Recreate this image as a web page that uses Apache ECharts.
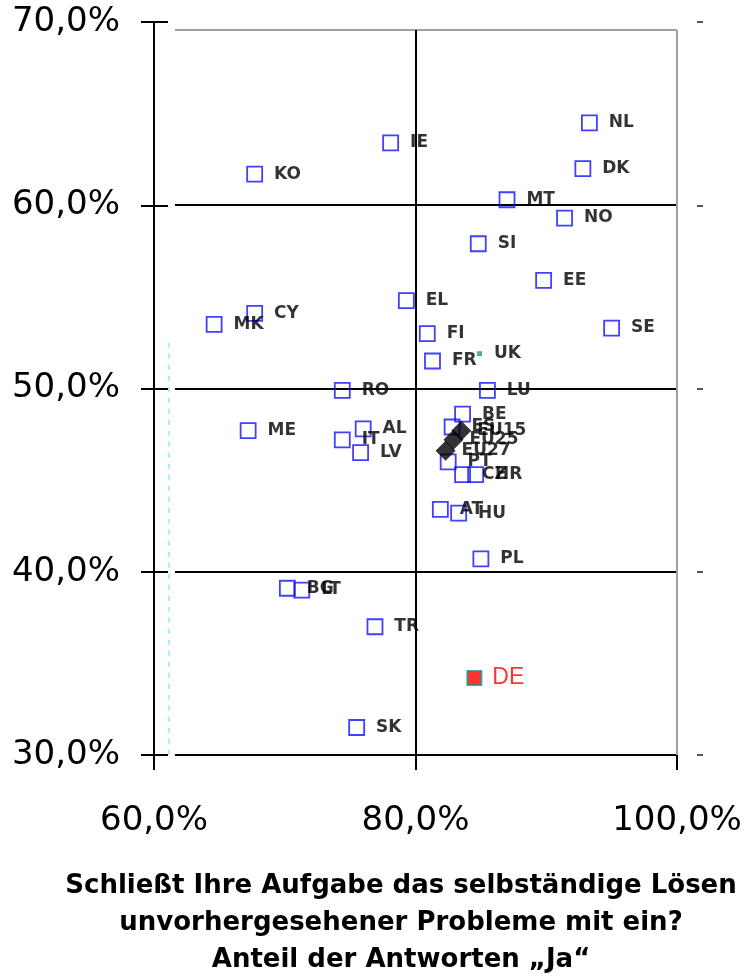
<!DOCTYPE html>
<html>
<head>
<meta charset="utf-8">
<script src="https://cdn.jsdelivr.net/npm/echarts@6/dist/echarts.min.js"></script>
<style>
  html, body { margin: 0; padding: 0; background: #fff; }
  #chart { width: 745px; height: 976px; }
</style>
</head>
<body>
<div id="chart"></div>
<script>
// Länder: x = Anteil "Ja" (%), y = zweite Kennzahl (%)
const countryNames = ['NL', 'DK', 'IE', 'KO', 'MT', 'NO', 'SI', 'EE', 'EL', 'CY', 'MK', 'SE', 'FI', 'FR', 'RO', 'LU',
  'BE', 'ES', 'AL', 'ME', 'IT', 'LV', 'PT', 'CZ', 'HR', 'AT', 'HU', 'PL', 'BG', 'LT', 'TR', 'SK'];
const countryX = [93.3, 92.8, 78.1, 67.7, 87.0, 91.4, 84.8, 89.8, 79.3, 67.7, 64.6, 95.0, 80.9, 81.3, 74.4, 85.5,
  83.6, 82.8, 76.0, 67.2, 74.4, 75.8, 82.5, 83.6, 84.6, 81.9, 83.3, 85.0, 70.2, 71.3, 76.9, 75.5];
const countryY = [64.5, 62.0, 63.4, 61.7, 60.3, 59.3, 57.9, 55.9, 54.8, 54.1, 53.5, 53.3, 53.0, 51.5, 49.9, 49.9,
  48.6, 47.9, 47.8, 47.7, 47.2, 46.5, 46.0, 45.3, 45.3, 43.4, 43.2, 40.7, 39.1, 39.0, 37.0, 31.5];

// EU-Durchschnitte
const euNames = ['EU15', 'EU25', 'EU27'];
const euX = [83.5, 82.9, 82.3];
const euY = [47.7, 47.2, 46.6];

// Sonderpunkte
const ukValue = [84.9, 51.9];
const deValue = [84.5, 34.2];

const pct = v => v.toFixed(1).replace('.', ',') + '%';

const chart = echarts.init(document.getElementById('chart'));

const labelFont = {
  show: true,
  position: 'right',
  distance: 11,
  color: '#000',
  fontFamily: 'DejaVu Sans',
  fontWeight: 'bold',
  fontSize: 17,
  formatter: '{b}'
};

const tickAxis = {
  type: 'value', min: 30, max: 70, interval: 10,
  axisLine: {show: false}, splitLine: {show: false}, axisLabel: {show: false}
};

const hidden = {show: false};
const frameTop = 69.56; // oberer Rahmen liegt etwas unter 70 %

chart.setOption({
  animation: false,
  title: {
    text: 'Schließt Ihre Aufgabe das selbständige Lösen\nunvorhergesehener Probleme mit ein?\nAnteil der Antworten „Ja“',
    left: 401,
    top: 868,
    textAlign: 'center',
    padding: 0,
    textStyle: {
      fontFamily: 'DejaVu Sans',
      fontWeight: 'bold',
      fontSize: 26,
      lineHeight: 37,
      color: '#000'
    }
  },
  grid: [
    {left: 154, right: 68, top: 22, bottom: 221},
    // Raster mit Abstand zur y-Achse
    {left: 175, right: 68, top: 30, bottom: 221}
  ],
  xAxis: [
    {
      type: 'value', min: 60, max: 100, interval: 20,
      axisLine: hidden,
      axisTick: {show: true, length: 15, lineStyle: {color: '#000', width: 2}},
      axisLabel: {
        margin: 49, color: '#000', fontFamily: 'DejaVu Sans', fontSize: 34,
        formatter: pct
      },
      splitLine: hidden
    },
    {
      gridIndex: 1, type: 'value', min: 0, max: 1,
      axisLine: hidden, axisTick: hidden, axisLabel: hidden, splitLine: hidden
    }
  ],
  yAxis: [
    {
      type: 'value', min: 30, max: 70, interval: 10,
      axisLine: {onZero: false, lineStyle: {color: '#000', width: 2}},
      axisTick: {length: 13, lineStyle: {color: '#000', width: 2}},
      axisLabel: {
        margin: 34, color: '#000', fontFamily: 'DejaVu Sans', fontSize: 34,
        formatter: pct
      },
      splitLine: hidden
    },
    // innere Hälfte der Kreuz-Ticks
    {...tickAxis, position: 'left', axisTick: {inside: true, length: 14, lineStyle: {color: '#000', width: 2}}},
    // kurze Striche rechts neben dem Diagramm
    {...tickAxis, position: 'right', offset: 20, axisTick: {length: 6, lineStyle: {color: '#555', width: 2}}},
    {
      gridIndex: 1, type: 'value', min: 30, max: frameTop, interval: 10,
      axisLine: hidden, axisTick: hidden, axisLabel: hidden,
      splitLine: {lineStyle: {color: ['#000', '#000', '#000', '#000', '#a0a0a0'], width: 2}}
    }
  ],
  series: [
    {
      name: 'Länder',
      type: 'scatter',
      symbol: 'rect',
      symbolSize: 15,
      itemStyle: {color: 'transparent', borderColor: '#1010ff', borderWidth: 1.8},
      label: labelFont,
      data: countryNames.map((n, i) => ({name: n, value: [countryX[i], countryY[i]]})),
      z: 3,
      markLine: {
        silent: true,
        symbol: 'none',
        label: {show: false},
        z: 1,
        data: [
          [{coord: [61.1, 52.5], lineStyle: {color: '#a8f0f8', type: [5, 6], width: 2}}, {coord: [61.1, 30]}],
          [{coord: [80, frameTop], lineStyle: {color: '#000', type: 'solid', width: 2}}, {coord: [80, 30]}],
          [{coord: [100, frameTop], lineStyle: {color: '#a0a0a0', type: 'solid', width: 2}}, {coord: [100, 30]}]
        ]
      }
    },
    {
      name: 'EU',
      type: 'scatter',
      symbol: 'diamond',
      symbolSize: 20,
      itemStyle: {color: '#000'},
      label: {...labelFont, distance: 6},
      z: 4,
      data: euNames.map((n, i) => ({name: n, value: [euX[i], euY[i]]}))
    },
    {
      name: 'UK',
      type: 'scatter',
      symbol: 'rect',
      symbolSize: 5,
      itemStyle: {color: '#2e9a5c'},
      label: {...labelFont, distance: 12},
      data: [{name: 'UK', value: ukValue}]
    },
    {
      name: 'DE',
      type: 'scatter',
      symbol: 'rect',
      symbolSize: 14,
      itemStyle: {color: '#ff0000', borderColor: '#2a8c8c', borderWidth: 2},
      label: {...labelFont, color: '#ff0000', fontWeight: 'normal', fontFamily: 'Liberation Sans', fontSize: 23, distance: 10},
      data: [{name: 'DE', value: deValue}]
    }
  ]
});
</script>
</body>
</html>
